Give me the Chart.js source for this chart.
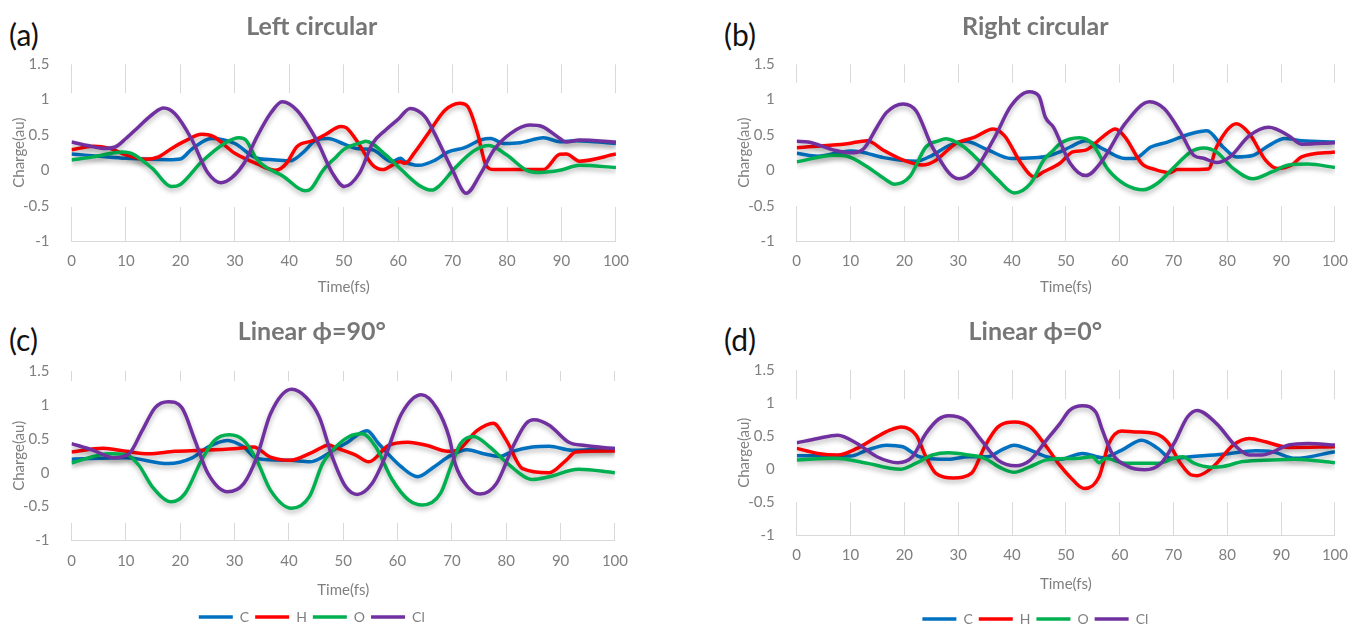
<!DOCTYPE html>
<html>
<head>
<meta charset="utf-8">
<script src="https://cdn.jsdelivr.net/npm/chart.js@4.4.1/dist/chart.umd.min.js"></script>
<style>
    html, body { margin: 0; padding: 0; background: #fff; overflow: hidden; }
    #page { position: relative; width: 1359px; height: 625px; font-family: Lato, 'Open Sans', sans-serif; }
    .tag { position: absolute; font-size: 30px; color: #111; line-height: 1; }
    canvas { position: absolute; }
</style>
</head>
<body>
<div id="page">
    <div class="tag" style="left:9px;top:19px">(a)</div>
    <div class="tag" style="left:724px;top:19px">(b)</div>
    <div class="tag" style="left:9px;top:324px">(c)</div>
    <div class="tag" style="left:724px;top:324px">(d)</div>
    <canvas id="chart-a" width="640" height="300" style="left:0;top:0"></canvas>
    <canvas id="chart-b" width="634" height="300" style="left:725px;top:0"></canvas>
    <canvas id="chart-c" width="640" height="334" style="left:0;top:300px"></canvas>
    <canvas id="chart-d" width="634" height="336" style="left:725px;top:300px"></canvas>
</div>
<script>
// series labels and ticks
const SERIES = ['C', 'H', 'O', 'Cl'];
const Y_TICKS = [-1, -0.5, 0, 0.5, 1, 1.5];
const X_TICKS = [0, 10, 20, 30, 40, 50, 60, 70, 80, 90, 100];

// (a) Left circular : [time fs, charge au]
const leftC = [[0,0.23],[5,0.2],[10,0.17],[17.8,0.15],[20,0.16],[22.1,0.3],[25.7,0.45],[28,0.43],[30,0.38],[34.1,0.17],[37,0.15],[40.2,0.135],[42.5,0.25],[45,0.43],[47.1,0.45],[50.1,0.37],[52.3,0.31],[55.3,0.29],[58.9,0.12],[60.4,0.17],[61.3,0.12],[63.8,0.07],[66.8,0.145],[69.2,0.26],[72.2,0.32],[75.2,0.43],[77,0.45],[79.4,0.38],[82.4,0.39],[86.7,0.46],[89.7,0.405],[92.7,0.42],[100,0.38]];
const leftH = [[0,0.29],[4,0.34],[7,0.31],[10,0.22],[13.6,0.155],[16,0.19],[18.4,0.31],[21,0.42],[23.9,0.51],[26,0.48],[30,0.24],[34.1,0.09],[37.5,0.0],[39.5,0.1],[41.4,0.335],[44.4,0.42],[46.5,0.5],[49.5,0.62],[50.5,0.6],[52.3,0.43],[55.3,0.075],[57.1,0.01],[60.4,0.12],[61.3,0.1],[63,0.25],[65.5,0.52],[68.6,0.85],[71.3,0.95],[72.8,0.9],[74.6,0.52],[76.1,0.075],[77.6,0.01],[86.7,0.01],[89.7,0.226],[90.9,0.23],[93.3,0.13],[100,0.23]];
const leftO = [[0,0.146],[4,0.19],[9.4,0.26],[11,0.24],[14.8,0.03],[18.4,-0.23],[20,-0.2],[23.9,0.12],[28.1,0.38],[30.8,0.46],[32,0.43],[34.1,0.15],[39,-0.09],[42.9,-0.29],[44,-0.26],[46.2,0.0],[48.6,0.19],[50.1,0.3],[53.5,0.4],[54,0.41],[57.7,0.22],[60.7,0.0],[63.8,-0.21],[66.2,-0.28],[67.4,-0.23],[70.4,0.03],[74,0.28],[76.7,0.35],[79.9,0.22],[83.6,0.0],[86,-0.03],[89.7,0.0],[93.3,0.07],[100,0.04]];
const leftCl = [[0,0.4],[3,0.35],[5.8,0.31],[8,0.33],[10,0.45],[12.4,0.62],[15,0.8],[16.9,0.88],[19,0.8],[22,0.45],[25,-0.03],[27.5,-0.175],[29.5,-0.1],[31.7,0.1],[34.1,0.48],[36.6,0.81],[38.7,0.97],[41.4,0.85],[45,0.43],[48,-0.05],[50.1,-0.23],[52.9,-0.04],[55.3,0.38],[57.7,0.57],[60.1,0.73],[62.2,0.876],[64.9,0.76],[66.7,0.52],[67.9,0.33],[70,0.0],[72.5,-0.325],[75.2,-0.04],[77.6,0.29],[80.6,0.52],[84.2,0.64],[86.4,0.62],[89.7,0.45],[90.9,0.4],[93.3,0.43],[100,0.4]];

// (b) Right circular
const rightC = [[0,0.24],[3.9,0.2],[10,0.275],[12,0.26],[16.1,0.18],[22.2,0.13],[24.6,0.19],[28.3,0.35],[31.3,0.41],[35.6,0.285],[39.8,0.167],[44.1,0.177],[46.5,0.2],[48.9,0.26],[50.8,0.33],[53.7,0.42],[56.8,0.307],[61,0.167],[62.8,0.167],[65.8,0.33],[68.9,0.4],[73.2,0.517],[76.2,0.56],[79.2,0.33],[81.7,0.19],[84.7,0.21],[87.7,0.35],[90.7,0.45],[93.8,0.42],[100,0.4]];
const rightH = [[0,0.32],[9.4,0.377],[13.1,0.42],[16.1,0.285],[19.8,0.145],[23.4,0.075],[25.8,0.14],[29.5,0.377],[33.1,0.47],[36.5,0.585],[38.6,0.49],[41.7,0.097],[44.1,-0.09],[45.9,-0.02],[48.9,0.1],[51.3,0.26],[53.7,0.285],[56.8,0.47],[59.2,0.585],[61,0.47],[64.1,0.097],[66.5,0.013],[69.4,-0.033],[70.7,0.01],[76.5,0.02],[78,0.33],[81.7,0.66],[84.1,0.52],[87.1,0.145],[89.3,0.026],[92,0.075],[93.8,0.19],[100,0.26]];
const rightO = [[0,0.12],[7,0.214],[9.4,0.2],[13.1,0.05],[16.1,-0.11],[18.2,-0.196],[21,-0.09],[24,0.33],[26.5,0.42],[27.7,0.447],[30.7,0.35],[34.4,0.097],[37.4,-0.135],[40.4,-0.32],[43.5,-0.18],[45.9,0.145],[47.7,0.285],[48.9,0.377],[52.5,0.46],[54.9,0.377],[57.9,0.005],[61,-0.2],[64.4,-0.276],[67.1,-0.18],[70.2,0.051],[73.2,0.26],[75.6,0.316],[78,0.26],[81.1,0.028],[84.7,-0.12],[88.4,-0.02],[91.4,0.074],[95,0.088],[100,0.04]];
const rightCl = [[0,0.41],[2.1,0.4],[7,0.285],[10,0.247],[12.5,0.31],[14.9,0.61],[16.7,0.82],[19.8,0.94],[22.2,0.84],[25.2,0.33],[30.1,-0.12],[33.1,0.005],[36.8,0.47],[39.8,0.91],[43.2,1.11],[45,1.05],[46.2,0.75],[47.7,0.61],[50.8,0.1],[53.7,-0.075],[56.8,0.14],[61,0.66],[65.6,0.97],[68.3,0.87],[71.3,0.54],[73.8,0.21],[75.6,0.17],[78,0.11],[80.5,0.19],[84.1,0.49],[87.7,0.61],[91.4,0.49],[93.8,0.37],[100,0.39]];

// (c) Linear phi=90
const lin90C = [[0,0.2],[10,0.22],[17.8,0.134],[22,0.21],[25.1,0.378],[28.7,0.476],[31.7,0.378],[34.1,0.21],[40.2,0.183],[43.8,0.16],[46.8,0.26],[48.6,0.354],[50.4,0.43],[54.4,0.62],[56.5,0.43],[60.7,0.085],[63.7,-0.06],[66.7,0.085],[69.8,0.256],[72.8,0.34],[75.8,0.28],[78.8,0.24],[81.2,0.315],[84.8,0.378],[87.9,0.39],[92.1,0.33],[100,0.36]];
const lin90H = [[0,0.305],[5.8,0.36],[10,0.315],[14.2,0.28],[19,0.315],[23.9,0.33],[29.9,0.354],[33.5,0.378],[36.6,0.23],[40.2,0.183],[44.4,0.305],[47.4,0.41],[48.6,0.37],[52.3,0.26],[54.7,0.16],[58.3,0.4],[61.9,0.45],[65.5,0.4],[69.2,0.315],[71,0.33],[74.6,0.62],[77.6,0.73],[80,0.48],[83,0.06],[87.9,0.0],[91,0.183],[92.8,0.305],[100,0.32]];
const lin90O = [[0,0.144],[7,0.28],[10,0.27],[12.4,0.11],[14.8,-0.2],[18.4,-0.43],[20.9,-0.305],[23.9,0.18],[26.3,0.476],[29,0.56],[31.7,0.476],[34.1,0.183],[36.6,-0.257],[40.5,-0.525],[43.8,-0.35],[46.2,0.134],[48.6,0.378],[51.1,0.534],[53.5,0.573],[56,0.378],[59,-0.1],[62,-0.4],[64.6,-0.475],[67.9,-0.305],[70,0.134],[71.6,0.43],[74,0.534],[77,0.378],[80.6,0.11],[84.8,-0.1],[87.9,-0.06],[93.3,0.05],[100,0.0]];
const lin90Cl = [[0,0.43],[4,0.33],[7.9,0.22],[10.6,0.28],[13,0.62],[15.4,0.96],[17.8,1.047],[20.3,0.96],[22.7,0.48],[25.1,-0.01],[28.7,-0.28],[31.7,-0.16],[34.1,0.23],[36.6,0.867],[40.5,1.23],[43.2,1.11],[45.6,0.82],[48,0.23],[50.4,-0.2],[52.6,-0.32],[55.3,-0.16],[57.7,0.23],[60.7,0.866],[64.4,1.15],[67.3,0.94],[69.5,0.52],[70.6,0.13],[72.8,-0.2],[75.2,-0.315],[78.2,-0.16],[81.2,0.38],[83.6,0.72],[85.1,0.78],[87.9,0.7],[91.5,0.45],[94.5,0.4],[100,0.355]];

// (d) Linear phi=0
const lin0C = [[0,0.206],[10,0.2],[13.1,0.29],[16.7,0.365],[19.7,0.34],[22.8,0.19],[28.2,0.15],[31.9,0.19],[35.5,0.19],[38,0.29],[40.4,0.365],[43.4,0.29],[46.4,0.19],[48.9,0.15],[53.1,0.24],[56.8,0.176],[60.4,0.29],[64.1,0.44],[67.1,0.316],[69.5,0.166],[73.2,0.19],[79.2,0.226],[85.3,0.28],[88.3,0.267],[92.6,0.166],[100,0.267]];
const lin0H = [[0,0.316],[3.9,0.24],[7.6,0.216],[11.2,0.316],[14.9,0.49],[17.3,0.59],[19.4,0.64],[22.2,0.515],[24,0.19],[25.8,-0.057],[29.1,-0.13],[32.5,-0.057],[34.9,0.34],[37.4,0.64],[40.4,0.714],[43.4,0.64],[46.4,0.34],[48.9,0.06],[50.7,-0.107],[53.4,-0.29],[56.2,-0.107],[58,0.39],[60.4,0.58],[62.8,0.565],[66.5,0.54],[68.9,0.415],[71.3,0.092],[73.2,-0.082],[74.4,-0.097],[77.4,0.04],[81.1,0.366],[84.1,0.465],[87.1,0.415],[91.4,0.33],[100,0.34]];
const lin0O = [[0,0.142],[7,0.166],[13.1,0.092],[17.3,0.017],[19.4,0.002],[22.2,0.092],[25.2,0.216],[28.2,0.25],[31.9,0.216],[34.9,0.166],[38,0.017],[40.4,-0.046],[43.4,0.042],[46.4,0.142],[48.9,0.16],[52.5,0.166],[54.9,0.19],[56.2,0.1],[57.4,0.166],[61,0.092],[67.1,0.092],[70.1,0.166],[71.7,0.19],[73.8,0.092],[76.8,0.032],[79.2,0.042],[82.9,0.117],[88.3,0.142],[92.6,0.152],[100,0.1]];
const lin0Cl = [[0,0.4],[3.9,0.465],[7.6,0.515],[11.2,0.39],[14.9,0.19],[18.8,0.1],[21.5,0.19],[24,0.54],[26.4,0.76],[28.2,0.81],[31.3,0.74],[34.3,0.44],[37.4,0.14],[40.7,0.053],[43.4,0.14],[46.4,0.44],[48.9,0.69],[50.7,0.89],[53.1,0.96],[55.6,0.86],[56.8,0.59],[58.6,0.24],[61.6,0.04],[64.7,-0.007],[67.7,0.092],[70.1,0.39],[72.6,0.79],[74.4,0.89],[78,0.69],[81.7,0.34],[84.1,0.216],[86.5,0.216],[91.4,0.366],[95,0.39],[100,0.366]];

const COLORS = { C: '#0070C0', H: '#FF0000', O: '#00B050', Cl: '#7030A0' };
const GRID = '#d9d9d9';
const TEXT = '#7f7f7f';
const FONT = "Lato, 'Open Sans', sans-serif";
const TITLE_SIZE = 25;

// white band over the grid, as in the pasted original
const gridMask = {
    id: 'gridMask',
    beforeDatasetsDraw(chart, args, opts) {
        if (!opts.range) return;
        const { ctx, chartArea, scales } = chart;
        const top = scales.y.getPixelForValue(opts.range[0]);
        const bottom = scales.y.getPixelForValue(opts.range[1]);
        ctx.save();
        ctx.fillStyle = '#fff';
        ctx.fillRect(chartArea.left - 1, top, chartArea.right - chartArea.left + 2, bottom - top);
        ctx.restore();
    },
};

const lineShadow = {
    id: 'lineShadow',
    beforeDatasetDraw(chart) {
        const ctx = chart.ctx;
        ctx.save();
        ctx.shadowColor = 'rgba(0,0,0,0.28)';
        ctx.shadowBlur = 5;
        ctx.shadowOffsetY = 3;
    },
    afterDatasetDraw(chart) {
        chart.ctx.restore();
    },
};

function renderPanel(id, title, lists, p) {
    const canvas = document.getElementById(id);
    const legendH = p.legend ? 30 : 0;
    const titleLine = TITLE_SIZE * 1.2;

    new Chart(canvas, {
        type: 'line',
        data: {
            datasets: SERIES.map((name, i) => ({
                label: name,
                data: lists[i].map(([x, y]) => ({ x, y })),
                borderColor: COLORS[name],
                backgroundColor: COLORS[name],
                borderWidth: 3.5,
                pointRadius: 0,
                cubicInterpolationMode: 'monotone',
                order: SERIES.length - i,
            })),
        },
        options: {
            responsive: false,
            animation: false,
            events: [],
            layout: { padding: { left: 0, right: canvas.width - p.right, top: 0, bottom: 0 } },
            plugins: {
                title: {
                    display: true,
                    text: title,
                    color: '#767676',
                    font: { family: FONT, size: TITLE_SIZE, weight: 'bold' },
                    padding: { top: p.titleY - titleLine / 2, bottom: p.top - p.titleY - titleLine / 2 },
                },
                legend: {
                    display: p.legend,
                    position: 'bottom',
                    labels: {
                        usePointStyle: true,
                        pointStyle: 'line',
                        pointStyleWidth: 34,
                        padding: 6,
                        color: TEXT,
                        font: { family: FONT, size: 14 },
                        sort: (a, b) => a.datasetIndex - b.datasetIndex,
                    },
                },
                tooltip: { enabled: false },
                gridMask: { range: p.mask },
            },
            scales: {
                x: {
                    type: 'linear',
                    min: 0,
                    max: 100,
                    afterBuildTicks: (s) => { s.ticks = X_TICKS.map((v) => ({ value: v })); },
                    afterFit: (s) => { s.height = canvas.height - legendH - p.bottom; },
                    grid: { color: GRID, drawTicks: false },
                    border: { color: GRID },
                    ticks: { color: TEXT, padding: p.tickPad, font: { family: FONT, size: 15 } },
                    title: {
                        display: true,
                        text: 'Time(fs)',
                        color: TEXT,
                        font: { family: FONT, size: 15 },
                        padding: { top: 0, bottom: p.timePad },
                    },
                },
                y: {
                    min: -1,
                    max: 1.5,
                    afterBuildTicks: (s) => { s.ticks = Y_TICKS.map((v) => ({ value: v })); },
                    afterFit: (s) => { s.width = p.left; },
                    grid: { display: false },
                    border: { display: false },
                    ticks: {
                        color: TEXT,
                        padding: 14,
                        font: { family: FONT, size: 15 },
                        callback: (v) => String(v),
                    },
                    title: {
                        display: true,
                        text: 'Charge(au)',
                        color: TEXT,
                        font: { family: FONT, size: 15 },
                        padding: { top: 10, bottom: 0 },
                    },
                },
            },
        },
        plugins: [gridMask, lineShadow],
    });
}

renderPanel('chart-a', 'Left circular', [leftC, leftH, leftO, leftCl],
    { left: 71.5, right: 623.5, top: 64.3, bottom: 241, titleY: 27, tickPad: 11, timePad: 4, legend: false, mask: [1.09, -0.52] });
renderPanel('chart-b', 'Right circular', [rightC, rightH, rightO, rightCl],
    { left: 71.7, right: 620.7, top: 64.3, bottom: 241, titleY: 27, tickPad: 11, timePad: 4, legend: false, mask: [1.24, -0.51] });
renderPanel('chart-c', 'Linear ϕ=90°', [lin90C, lin90H, lin90O, lin90Cl],
    { left: 71.5, right: 623.5, top: 71, bottom: 240.5, titleY: 32, tickPad: 12, timePad: 4.5, legend: true, mask: [1.35, -0.74] });
renderPanel('chart-d', 'Linear ϕ=0°', [lin0C, lin0H, lin0O, lin0Cl],
    { left: 71.7, right: 620.7, top: 70, bottom: 235.5, titleY: 32, tickPad: 11, timePad: 13, legend: true, mask: [1.06, -0.5] });
</script>
</body>
</html>
